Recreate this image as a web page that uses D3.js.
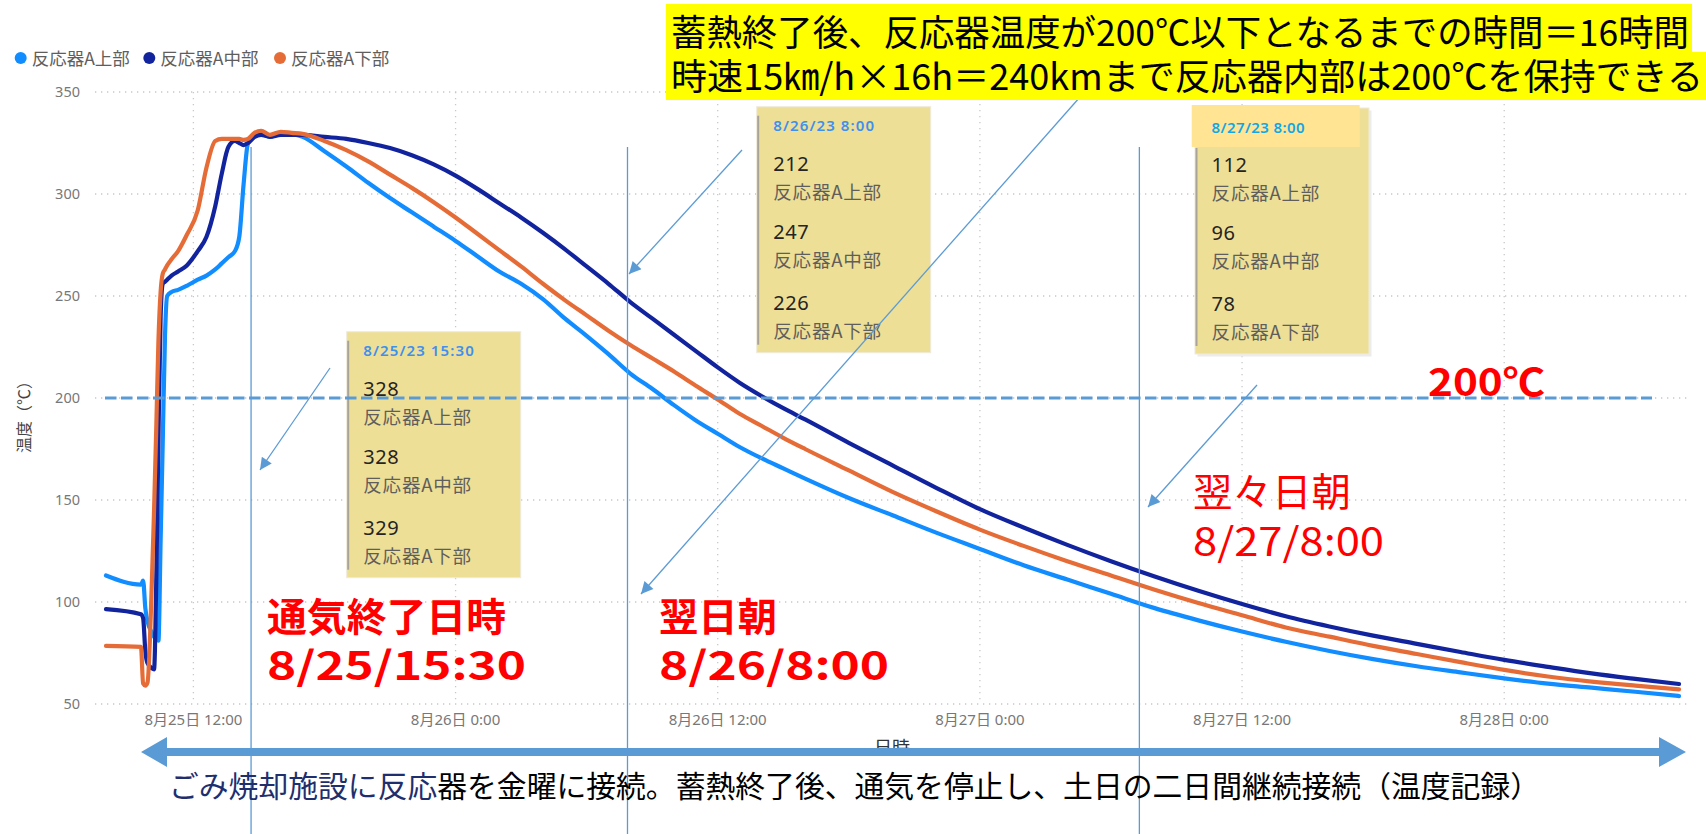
<!DOCTYPE html>
<html>
<head>
<meta charset="utf-8">
<script src="https://cdn.jsdelivr.net/npm/d3@7"></script>
<style>
  body { margin: 0; background: #ffffff; }
  svg { display: block; }
</style>
</head>
<body>
<svg id="chart" width="1706" height="834"></svg>
<script>
// ---- data: reactor temperature log, hours elapsed since 2023-08-25 08:00 ----
const startTime = new Date(2023, 7, 25, 8, 0);
const elapsedHours = [
  0, 1.6, 1.7, 1.8, 1.9, 2.1, 2.2, 2.3, 2.4, 2.5, 2.6, 2.7, 2.8, 3.0, 3.3, 3.7, 4.2, 4.6, 5.0, 5.3,
  5.6, 5.9, 6.1, 6.3, 6.5, 6.8, 7.1, 7.5, 8, 8.5,
  9, 10, 11, 12, 13, 14, 15, 16, 17, 18, 19, 20, 21, 22, 23, 24, 25, 26, 27, 28, 29, 30, 31, 32,
  34, 36, 38, 40, 42, 44, 46, 48, 50, 52, 54, 56, 58, 60, 62, 64, 66, 68, 70, 72
];
const upperTemp = [
  113, 108.5, 110.5, 97, 90.5, 85, 83, 82, 81, 130, 180, 230, 250, 252, 253, 255, 258, 260, 263, 266,
  269, 272, 279, 305, 325, 328.5, 329.5, 328, 330, 329.5,
  328, 321, 313.5, 305.5, 298, 291, 284, 277, 269.5, 262, 256, 248.5, 239, 230.5, 221.5, 212, 204.5, 196.5, 189, 182.5, 176, 170.5, 165.5, 160.5,
  151, 142.5, 134, 126, 118, 111, 104, 97, 91, 85.5, 80.5, 76, 72, 68.5, 65.5, 62.6, 60, 58, 56, 53.9
];
const middleTemp = [
  96.5, 94, 92, 76, 70, 67.5, 67, 110, 180, 240, 256, 257, 258, 260, 262, 265, 272, 279, 294, 310,
  323, 326, 325, 324, 325, 328, 329, 328, 329, 329,
  329, 328, 327, 325, 322.5, 319, 314.5, 309, 302.5, 295.5, 288.5, 281, 273, 264.5, 256, 247, 239, 231, 223, 215, 207.5, 201, 195, 189.5,
  178, 167, 156, 145.5, 136.5, 128, 120, 112.5, 105.5, 99, 93, 88, 83.5, 79.5, 75.5, 71.6, 68.2, 65, 62.3, 59.8
];
const lowerTemp = [
  78.5, 78, 60, 59, 60.5, 110, 145, 185, 228, 252, 261, 263, 265, 268, 272, 280, 292, 313, 326, 327,
  327, 327, 327, 326.5, 327, 330, 331, 329, 330.5, 330,
  329.5, 326, 321.5, 316, 309.5, 303, 296, 288.5, 280.5, 272.5, 264.5, 256, 248, 240.5, 233, 226, 219.5, 213, 206, 199.3, 192.3, 186.4, 180.5, 175,
  164.5, 154, 144.5, 135.5, 127.5, 120, 113, 106, 99.5, 93.5, 87.5, 83, 78.5, 74.5, 70.5, 66.7, 63.5, 61, 59, 57.2
];
const seriesNames = ["反応器A上部", "反応器A中部", "反応器A下部"];
const seriesColors = ["#118DFF", "#12239E", "#E66C37"];
const yTicks = [50, 100, 150, 200, 250, 300, 350];
const xTickHours = [4, 16, 28, 40, 52, 64];
const xTickLabels = ["8月25日 12:00", "8月26日 0:00", "8月26日 12:00", "8月27日 0:00", "8月27日 12:00", "8月28日 0:00"];
const thresholdTemp = 200;

// tooltip snapshots pasted onto the chart
const tipTitles = ["8/25/23 15:30", "8/26/23 8:00", "8/27/23 8:00"];
const tipUpper = [328, 212, 112];
const tipMiddle = [328, 247, 96];
const tipLower = [329, 226, 78];
// moments marked with vertical guide lines (hours elapsed)
const markerHours = [6.64, 23.87, 47.3];

// ---- scales ----
const toDate = h => new Date(startTime.getTime() + h * 3600e3);
const x = d3.scaleTime().domain([toDate(0), toDate(72)]).range([106, 1679]);
const y = d3.scaleLinear().domain([50, 350]).range([704, 92]);

const svg = d3.select("#chart");
const uiFont = '"Noto Sans", "Noto Sans CJK JP", sans-serif';
const jpFont = '"Noto Sans CJK JP", sans-serif';

// ---- legend ----
const legendX = [20.7, 149.3, 280];
seriesNames.forEach((name, i) => {
  svg.append("circle").attr("cx", legendX[i]).attr("cy", 58).attr("r", 6).attr("fill", seriesColors[i]);
  svg.append("text").attr("x", legendX[i] + 11).attr("y", 64.5)
    .attr("font-family", jpFont).attr("font-size", 17.5).attr("fill", "#605E5C").text(name);
});

// ---- gridlines ----
const grid = svg.append("g");
grid.selectAll("line.h").data(yTicks).join("line")
  .attr("x1", 95).attr("x2", 1690)
  .attr("y1", d => y(d)).attr("y2", d => y(d))
  .attr("stroke", "#c8c8c8").attr("stroke-width", 1.3).attr("stroke-dasharray", "1.3,4.7");
grid.selectAll("line.v").data(xTickHours).join("line")
  .attr("x1", d => x(toDate(d))).attr("x2", d => x(toDate(d)))
  .attr("y1", y(350)).attr("y2", y(50))
  .attr("stroke", "#c8c8c8").attr("stroke-width", 1.3).attr("stroke-dasharray", "1.3,4.7");

// ---- axes labels ----
svg.append("g").selectAll("text").data(yTicks).join("text")
  .attr("x", 80).attr("y", d => y(d) + 5).attr("text-anchor", "end")
  .attr("font-family", uiFont).attr("font-size", 14.5).attr("fill", "#777")
  .text(d => d);
svg.append("g").selectAll("text").data(xTickHours).join("text")
  .attr("x", d => x(toDate(d))).attr("y", 725).attr("text-anchor", "middle")
  .attr("font-family", uiFont).attr("font-size", 15).attr("fill", "#777")
  .text((d, i) => xTickLabels[i]);
svg.append("text")
  .attr("transform", "translate(30,413) rotate(-90)")
  .attr("text-anchor", "middle").attr("font-family", jpFont).attr("font-size", 16).attr("fill", "#444")
  .text("温度（℃）");
svg.append("text").attr("x", 892).attr("y", 754).attr("text-anchor", "middle")
  .attr("font-family", jpFont).attr("font-size", 18).attr("fill", "#333").text("日時");

// ---- series lines ----
const series = [upperTemp, middleTemp, lowerTemp];
const line = d3.line()
  .x((d, i) => x(toDate(elapsedHours[i])))
  .y(d => y(d))
  .curve(d3.curveMonotoneX);
series.forEach((vals, i) => {
  svg.append("path").datum(vals)
    .attr("d", line)
    .attr("fill", "none")
    .attr("stroke", seriesColors[i])
    .attr("stroke-width", 4.2)
    .attr("stroke-linejoin", "round")
    .attr("stroke-linecap", "round");
});

// ---- tooltip boxes ----
const tipBoxes = [
  { x: 346.7, y: 331.7, titleColor: "#3F8FEF", band: false },
  { x: 756.7, y: 106.7, titleColor: "#3F8FEF", band: false },
  { x: 1195, y: 108, titleColor: "#14A5E6", band: true }
];
tipBoxes.forEach((b, i) => {
  const g = svg.append("g");
  if (b.band) {
    g.append("rect").attr("x", b.x + 2.5).attr("y", b.y + 2.5).attr("width", 174).attr("height", 246).attr("fill", "#ececec");
  }
  g.append("rect").attr("x", b.x).attr("y", b.y).attr("width", 174).attr("height", 246)
    .attr("fill", "#EEDF96").attr("stroke", "#efeadb").attr("stroke-width", 1);
  g.append("line").attr("x1", b.x + 1.5).attr("x2", b.x + 1.5)
    .attr("y1", b.band ? b.y + 40 : b.y + 9).attr("y2", b.y + 238)
    .attr("stroke", "#a8a49a").attr("stroke-width", 2);
  if (b.band) {
    g.append("rect").attr("x", b.x - 3.3).attr("y", b.y - 3).attr("width", 168).attr("height", 42).attr("fill", "#FFE593");
  }
  const tx = b.x + 16.6;
  const vals = [tipUpper[i], tipMiddle[i], tipLower[i]];
  const valOffsets = [57, 125, 196];
  const t = g.append("text").attr("x", tx).attr("y", b.y + 24);
  t.append("tspan").attr("x", tx).attr("y", b.y + 24.5)
    .attr("font-family", uiFont).attr("font-size", 15).attr("font-weight", 600)
    .attr("letter-spacing", b.band ? 0.4 : 1.1)
    .attr("fill", b.titleColor).text(tipTitles[i]);
  vals.forEach((v, k) => {
    t.append("tspan").attr("x", tx).attr("y", b.y + valOffsets[k] + 7)
      .attr("font-family", uiFont).attr("font-size", 20).attr("letter-spacing", 0.5)
      .attr("fill", "#252423").text(v);
    t.append("tspan").attr("x", tx).attr("y", b.y + valOffsets[k] + 35)
      .attr("font-family", jpFont).attr("font-size", 18.5).attr("letter-spacing", 0.8)
      .attr("fill", "#605E5C").text(seriesNames[k]);
  });
});

// ---- 200℃ threshold line ----
svg.append("line")
  .attr("x1", 105).attr("x2", 1652)
  .attr("y1", y(thresholdTemp)).attr("y2", y(thresholdTemp))
  .attr("stroke", "#5B9BD5").attr("stroke-width", 3.2).attr("stroke-dasharray", "11.5,4.5");
svg.append("text").attr("x", 1428).attr("y", 396)
  .attr("font-family", jpFont).attr("font-weight", 700).attr("font-size", 38)
  .attr("fill", "#FF0000").attr("textLength", 117).attr("lengthAdjust", "spacingAndGlyphs")
  .text("200℃");

// ---- guide lines and arrows ----
const guideColor = "#5B9BD5";
svg.append("defs").append("marker")
  .attr("id", "head").attr("viewBox", "0 0 10 10").attr("refX", 10).attr("refY", 5)
  .attr("markerWidth", 14).attr("markerHeight", 12).attr("markerUnits", "userSpaceOnUse")
  .attr("orient", "auto")
  .append("path").attr("d", "M0,0 L10,5 L0,10 Z").attr("fill", guideColor);

svg.append("g").selectAll("line").data(markerHours).join("line")
  .attr("x1", d => x(toDate(d))).attr("x2", d => x(toDate(d)))
  .attr("y1", 147).attr("y2", 834)
  .attr("stroke", guideColor).attr("stroke-width", 1.3);

const arrows = [
  [330, 368, 260, 470],
  [742, 150, 629, 274],
  [1080, 97, 641, 594],
  [1257, 385, 1148, 507]
];
svg.append("g").selectAll("line").data(arrows).join("line")
  .attr("x1", d => d[0]).attr("y1", d => d[1]).attr("x2", d => d[2]).attr("y2", d => d[3])
  .attr("stroke", guideColor).attr("stroke-width", 1.3).attr("marker-end", "url(#head)");

// ---- callout texts (two-line blocks) ----
const callouts = [
  { lines: ["通気終了日時", "8/25/15:30"], w: [239, 259], x: 267, y: [631, 680], bold: true },
  { lines: ["翌日朝", "8/26/8:00"], w: [118, 230], x: 659, y: [631, 680], bold: true },
  { lines: ["翌々日朝", "8/27/8:00"], w: [158, 191], x: 1193, y: [506, 556], bold: false }
];
callouts.forEach(c => {
  const t = svg.append("text")
    .attr("font-family", jpFont).attr("font-size", 39)
    .attr("font-weight", c.bold ? 700 : 400).attr("fill", "#FF0000");
  c.lines.forEach((s, k) => {
    t.append("tspan").attr("x", c.x).attr("y", c.y[k])
      .attr("textLength", c.w[k]).attr("lengthAdjust", "spacingAndGlyphs")
      .text(s);
  });
});

// ---- headline (highlighted) ----
const headLines = [
  { t: "蓄熱終了後、反応器温度が200℃以下となるまでの時間＝16時間", y: 46, w: 1018, rw: 1026 },
  { t: "時速15㎞/h×16h＝240kmまで反応器内部は200℃を保持できる", y: 90, w: 1032, rw: 1040 }
];
headLines.forEach((h, i) => {
  svg.append("rect").attr("x", 666).attr("y", i === 0 ? 4 : 52).attr("width", h.rw).attr("height", 48).attr("fill", "#FFFF00");
});
const head = svg.append("text").attr("font-family", jpFont).attr("font-size", 36).attr("fill", "#000");
headLines.forEach(h => {
  head.append("tspan").attr("x", 671).attr("y", h.y)
    .attr("textLength", h.w).attr("lengthAdjust", "spacingAndGlyphs")
    .text(h.t);
});

// ---- timeline arrow and caption ----
const arrowY = 752;
svg.append("path")
  .attr("d", `M141,${arrowY} L167,${arrowY - 15} L167,${arrowY - 4} L1659,${arrowY - 4} L1659,${arrowY - 15} L1686,${arrowY} L1659,${arrowY + 15} L1659,${arrowY + 4} L167,${arrowY + 4} L167,${arrowY + 15} Z`)
  .attr("fill", "#5B9BD5");
const caption = svg.append("text").attr("x", 169).attr("y", 797)
  .attr("font-family", jpFont).attr("font-size", 29.5)
  .attr("textLength", 1371).attr("lengthAdjust", "spacingAndGlyphs");
caption.append("tspan").attr("fill", "#1F2F6E").text("ごみ焼却施設に反応");
caption.append("tspan").attr("fill", "#000").text("器を金曜に接続。蓄熱終了後、通気を停止し、土日の二日間継続接続（温度記録）");
</script>
</body>
</html>
